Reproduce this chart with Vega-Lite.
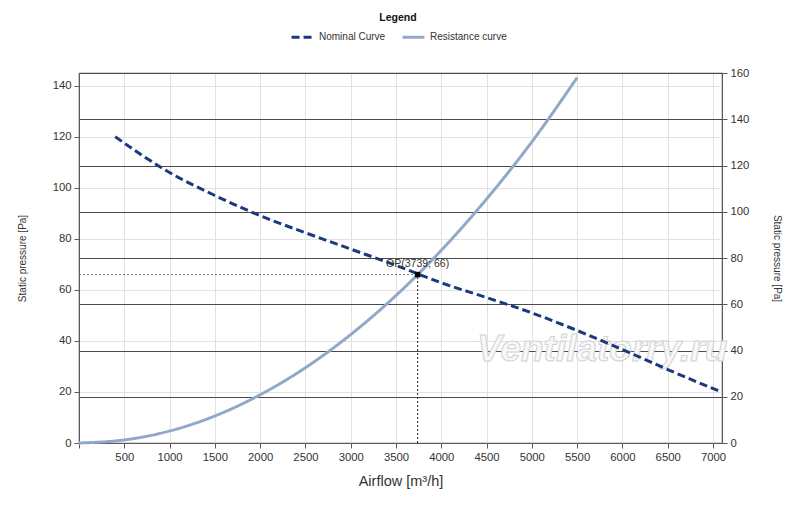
{
  "$schema": "https://vega.github.io/schema/vega-lite/v6.json",
  "width": 643,
  "height": 370,
  "autosize": {"type": "none"},
  "padding": {"left": 79, "top": 73, "right": 78, "bottom": 64},
  "background": "white",
  "config": {
    "font": "Liberation Sans",
    "view": {"stroke": "#5a5a5a", "strokeWidth": 1.2},
    "axis": {
      "labelFont": "Liberation Sans",
      "titleFont": "Liberation Sans",
      "labelFontSize": 11.3,
      "labelColor": "#333333",
      "titleColor": "#333333",
      "titleFontWeight": "normal",
      "domainColor": "#5a5a5a",
      "tickColor": "#5a5a5a",
      "tickSize": 5,
      "labelPadding": 3
    }
  },
  "datasets": {
    "curves": [
      {"series": "Resistance curve", "airflow": 0, "pressure": 0},
      {"series": "Resistance curve", "airflow": 500, "pressure": 1.2},
      {"series": "Resistance curve", "airflow": 1000, "pressure": 4.7},
      {"series": "Resistance curve", "airflow": 1500, "pressure": 10.6},
      {"series": "Resistance curve", "airflow": 2000, "pressure": 18.9},
      {"series": "Resistance curve", "airflow": 2500, "pressure": 29.5},
      {"series": "Resistance curve", "airflow": 3000, "pressure": 42.5},
      {"series": "Resistance curve", "airflow": 3500, "pressure": 57.8},
      {"series": "Resistance curve", "airflow": 4000, "pressure": 75.5},
      {"series": "Resistance curve", "airflow": 4500, "pressure": 95.6},
      {"series": "Resistance curve", "airflow": 5000, "pressure": 118},
      {"series": "Resistance curve", "airflow": 5500, "pressure": 143.2},
      {"series": "Nominal Curve", "airflow": 400, "pressure": 120},
      {"series": "Nominal Curve", "airflow": 1000, "pressure": 106},
      {"series": "Nominal Curve", "airflow": 1500, "pressure": 97},
      {"series": "Nominal Curve", "airflow": 2000, "pressure": 89.1},
      {"series": "Nominal Curve", "airflow": 2500, "pressure": 82.4},
      {"series": "Nominal Curve", "airflow": 3000, "pressure": 76.0},
      {"series": "Nominal Curve", "airflow": 3500, "pressure": 69.6},
      {"series": "Nominal Curve", "airflow": 4000, "pressure": 62.8},
      {"series": "Nominal Curve", "airflow": 4500, "pressure": 57.0},
      {"series": "Nominal Curve", "airflow": 5000, "pressure": 51.0},
      {"series": "Nominal Curve", "airflow": 5500, "pressure": 44.1},
      {"series": "Nominal Curve", "airflow": 6000, "pressure": 36.6},
      {"series": "Nominal Curve", "airflow": 6500, "pressure": 28.8},
      {"series": "Nominal Curve", "airflow": 7070, "pressure": 20.3}
    ],
    "op": [
      {"airflow": 3739, "pressure": 66, "label": "OP(3739; 66)"}
    ],
    "watermark": [
      {"airflow": 5777, "pressure": 36.6, "text": "Ventilatorry.ru"}
    ],
    "rightaxis": [
      {"pressure": 0},
      {"pressure": 160}
    ]
  },
  "layer": [
    {
      "data": {"name": "rightaxis"},
      "mark": {"type": "point", "opacity": 0},
      "encoding": {
        "y": {
          "field": "pressure",
          "type": "quantitative",
          "scale": {"domain": [0, 160], "nice": false},
          "axis": {
            "orient": "right",
            "values": [0, 20, 40, 60, 80, 100, 120, 140, 160],
            "grid": true,
            "gridColor": "#4a4a4a",
            "gridWidth": 1.1,
            "title": "Static pressure [Pa]",
            "titleFontSize": 10,
            "titlePadding": 23
          }
        }
      }
    },
    {
      "encoding": {
        "x": {
          "field": "airflow",
          "type": "quantitative",
          "scale": {"domain": [0, 7100], "nice": false},
          "axis": {
            "values": [0, 500, 1000, 1500, 2000, 2500, 3000, 3500, 4000, 4500, 5000, 5500, 6000, 6500, 7000],
            "format": "d",
            "labelExpr": "datum.value == 0 ? '' : datum.label",
            "grid": true,
            "gridColor": "#e2e2e2",
            "title": "Airflow [m³/h]",
            "titleFontSize": 14.5,
            "titlePadding": 12
          }
        },
        "y": {
          "field": "pressure",
          "type": "quantitative",
          "scale": {"domain": [0, 145], "nice": false},
          "axis": {
            "orient": "left",
            "values": [0, 20, 40, 60, 80, 100, 120, 140],
            "grid": true,
            "gridColor": "#e2e2e2",
            "title": "Static pressure [Pa]",
            "titleFontSize": 10,
            "titlePadding": 25
          }
        }
      },
      "layer": [
        {
          "data": {"name": "watermark"},
          "mark": {
            "type": "text",
            "fontSize": 37,
            "fontStyle": "italic",
            "fontWeight": "bold",
            "font": "Liberation Sans",
            "fill": "#f8f8f8",
            "stroke": "#d2d2d2",
            "strokeWidth": 1,
            "align": "center",
            "baseline": "middle"
          },
          "encoding": {"text": {"field": "text"}}
        },
        {
          "data": {"name": "op"},
          "mark": {"type": "rule", "strokeDash": [2, 2], "color": "#777777", "strokeWidth": 1},
          "encoding": {
            "x": {"datum": 0},
            "x2": {"field": "airflow"}
          }
        },
        {
          "data": {"name": "op"},
          "mark": {"type": "rule", "strokeDash": [2, 2], "color": "#222222", "strokeWidth": 1},
          "encoding": {
            "y": {"datum": 0},
            "y2": {"field": "pressure"}
          }
        },
        {
          "data": {"name": "curves"},
          "mark": {"type": "line", "strokeWidth": 3, "interpolate": "monotone"},
          "encoding": {
            "color": {
              "field": "series",
              "type": "nominal",
              "scale": {"domain": ["Nominal Curve", "Resistance curve"], "range": ["#1b3a7e", "#92a8c9"]},
              "legend": {
                "title": "Legend",
                "orient": "none",
                "legendX": 211,
                "legendY": -60,
                "direction": "horizontal",
                "titleAnchor": "middle",
                "titleFontSize": 10.5,
                "titleFontWeight": "bold",
                "titleColor": "#111111",
                "titleFont": "Liberation Sans",
                "labelFont": "Liberation Sans",
                "labelFontSize": 10,
                "labelColor": "#333333",
                "symbolType": "stroke",
                "symbolSize": 480,
                "symbolStrokeWidth": 3,
                "columnPadding": 10,
                "titlePadding": 1
              }
            },
            "strokeDash": {
              "field": "series",
              "type": "nominal",
              "scale": {"domain": ["Nominal Curve", "Resistance curve"], "range": [[8, 4], [1, 0]]},
              "legend": {
                "title": "Legend"
              }
            },
            "order": {"field": "airflow", "type": "quantitative"}
          }
        },
        {
          "data": {"name": "op"},
          "mark": {"type": "square", "size": 30, "color": "#000000", "opacity": 1, "filled": true},
          "encoding": {}
        },
        {
          "data": {"name": "op"},
          "mark": {"type": "text", "fontSize": 10.5, "color": "#333333", "dy": -11, "baseline": "middle", "align": "center"},
          "encoding": {"text": {"field": "label"}}
        }
      ]
    }
  ],
  "resolve": {"scale": {"y": "independent"}, "axis": {"y": "independent"}}
}
